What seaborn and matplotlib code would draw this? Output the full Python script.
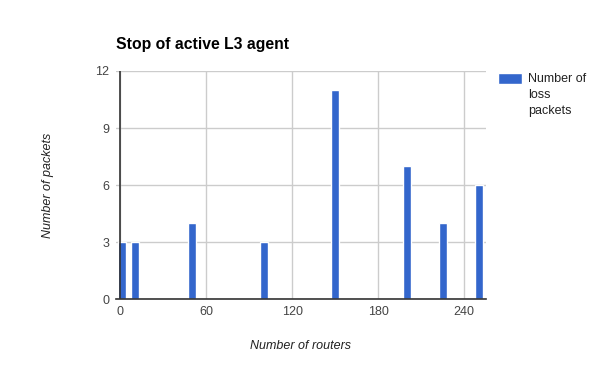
# ============================================================
# Stop of active L3 agent - loss packets per router count
# ============================================================

import matplotlib
matplotlib.use("Agg")
import matplotlib.pyplot as plt
import seaborn as sns
import pandas as pd

# ============================================================
# Data
# ============================================================

routers = [1, 10, 50, 100, 150, 200, 225, 250]
loss_packets = [3, 3, 4, 3, 11, 7, 4, 6]

x_ticks = [0, 60, 120, 180, 240]
y_ticks = [0, 3, 6, 9, 12]

df = pd.DataFrame({"routers": routers, "loss": loss_packets})

# ============================================================
# Style
# ============================================================

sns.set_style("white")
plt.rcParams["font.family"] = ["Liberation Sans", "DejaVu Sans"]

bar_color = "#3366CC"
grid_color = "#CCCCCC"

fig = plt.figure(figsize=(6, 3.71), dpi=100)
ax = fig.add_axes([0.1933, 0.1933, 0.6167, 0.6154])

# ============================================================
# Bars
# ============================================================

sns.barplot(data=df, x="routers", y="loss", native_scale=True,
            color=bar_color, width=0.62, saturation=1,
            label="Number of\nloss\npackets", ax=ax, zorder=3)

ax.set_xlim(-3.1, 255.2)
ax.set_ylim(0, 12)
ax.set_xticks(x_ticks)
ax.set_yticks(y_ticks)

ax.grid(True, color=grid_color, linewidth=1, zorder=0)
ax.set_axisbelow(True)

for s in ["top", "right", "left"]:
    ax.spines[s].set_visible(False)
ax.spines["bottom"].set_color("#333333")
ax.spines["bottom"].set_linewidth(1.2)
ax.spines["bottom"].set_zorder(4)
ax.axvline(0, color="#333333", linewidth=1.2, zorder=4)

ax.tick_params(axis="both", length=0, labelsize=9, labelcolor="#444444")
ax.tick_params(axis="x", pad=5)
ax.tick_params(axis="y", pad=5)

# ============================================================
# Labels
# ============================================================

ax.set_xlabel("Number of routers", fontsize=9, style="italic", color="#222222")
ax.xaxis.set_label_coords(0.5, -0.205)
ax.xaxis.label.set_va("center")

ax.set_ylabel("Number of packets", fontsize=9, style="italic", color="#222222")
ax.yaxis.set_label_coords(-0.184, 0.5)
ax.yaxis.label.set_va("center")
ax.yaxis.label.set_ha("center")

fig.text(116 / 600, 1 - 45 / 371, "Stop of active L3 agent",
         fontsize=11.3, weight="bold", color="#000000", ha="left", va="center")

# legend: swatch lined up with the first text line
leg = ax.legend(loc="upper left", bbox_to_anchor=(1.032, 0.99), frameon=False,
                fontsize=9, handlelength=1.9, handleheight=1.0,
                handletextpad=0.5, labelcolor="#222222",
                borderpad=0, borderaxespad=0)
for t in leg.get_texts():
    t.set_linespacing(1.45)
for col in leg._legend_handle_box.get_children():
    for row in col.get_children():
        row.align = "top"

plt.savefig("out.png", dpi=100)
